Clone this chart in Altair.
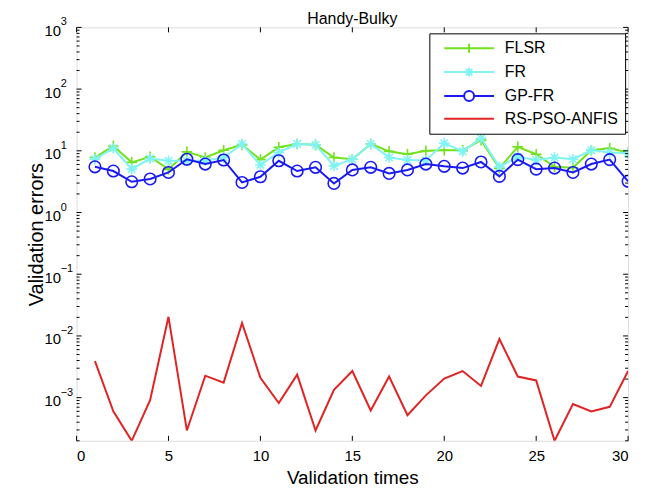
import altair as alt
import pandas as pd

# ---------------- data ----------------
runs = list(range(1, 31))
flsr = [7.8, 12.0, 6.5, 8.0, 5.0, 9.6, 7.8, 10.2, 12.5, 7.2,
        11.4, 12.9, 12.5, 7.8, 7.3, 12.9, 9.8, 8.8, 10.0, 10.2,
        10.2, 14.9, 5.2, 11.6, 8.8, 5.5, 5.3, 10.2, 11.0, 9.4]
fr = [7.3, 11.0, 5.05, 7.5, 6.9, 6.9, 6.9, 7.8, 12.9, 5.9,
      9.4, 12.9, 12.5, 5.7, 7.3, 12.9, 7.8, 7.1, 7.0, 13.3,
      9.8, 16.0, 5.5, 8.0, 7.1, 7.8, 7.3, 10.2, 9.4, 9.1]
gpfr = [5.5, 4.7, 3.15, 3.5, 4.46, 7.3, 6.1, 7.1, 3.07, 3.8,
        6.9, 4.7, 5.4, 2.96, 4.9, 5.4, 4.3, 4.9, 6.1, 5.6,
        5.25, 6.6, 3.85, 7.2, 5.05, 5.25, 4.46, 6.1, 7.2, 3.2]
rspso = [3.9e-3, 6.0e-4, 2.0e-4, 9.1e-4, 2.04e-2, 2.94e-4, 2.27e-3, 1.75e-3, 1.62e-2, 2.09e-3,
         8.2e-4, 2.36e-3, 2.94e-4, 1.34e-3, 2.7e-3, 6.2e-4, 2.2e-3, 5.2e-4, 1.09e-3, 2.04e-3,
         2.7e-3, 1.55e-3, 8.9e-3, 2.2e-3, 1.9e-3, 2.0e-4, 7.9e-4, 6.0e-4, 7.1e-4, 2.7e-3]

series_names = ["FLSR", "FR", "GP-FR", "RS-PSO-ANFIS"]
series_colors = ["#72e21c", "#80f4f4", "#1a1af2", "#e02424"]

x_ticks = [0, 5, 10, 15, 20, 25, 30]
y_major = [1e-3, 1e-2, 1e-1, 1e0, 1e1, 1e2, 1e3]
y_exponents = ["\u22123", "\u22122", "\u22121", "0", "1", "2", "3"]
y_minor = [m * 10.0 ** k for k in range(-4, 3) for m in range(2, 10)
           if 2e-4 <= m * 10.0 ** k <= 1e3]

# ---------------- styles ----------------
W, H = 555, 416
FONT = "Liberation Sans"

PLUS = "M-1,0H1M0,-1V1"
STAR = "M-1,0H1M0,-1V1M-0.7,-0.7L0.7,0.7M-0.7,0.7L0.7,-0.7"
marker_shapes = {"FLSR": PLUS, "FR": STAR, "GP-FR": "circle"}
marker_sizes = {"FLSR": 115, "FR": 115, "GP-FR": 135}

legend_paths = [
    "M0,0H10M5,-0.9V0.9",
    "M0,0H10M5,-0.9V0.9M4.35,-0.65L5.65,0.65M4.35,0.65L5.65,-0.65",
    "M0,0H4M6,0H10M4,0A1,1 0 1,1 6,0A1,1 0 1,1 4,0",
    "M0,0H10",
]

df = pd.DataFrame({
    "run": runs * 4,
    "error": flsr + fr + gpfr + rspso,
    "series": [n for n in series_names for _ in runs],
})
df_major = pd.DataFrame({"v": y_major, "e": y_exponents})
df_minor = pd.DataFrame({"v": y_minor})
df_xt = pd.DataFrame({"t": x_ticks})

xs = alt.Scale(domain=[0, 30], nice=False, zero=False)
ys = alt.Scale(type="log", domain=[2e-4, 1e3], nice=False)
color_scale = alt.Scale(domain=series_names, range=series_colors)

x_axis = alt.Axis(values=x_ticks, ticks=False, domain=False, grid=False,
                  labelFontSize=15, labelPadding=8, format="d",
                  title="Validation times", titleFontSize=19, titlePadding=5,
                  titleFontWeight="normal", titleFont=FONT, labelFont=FONT)
y_axis = alt.Axis(values=y_major, ticks=False, domain=False, grid=False,
                  labelExpr="'10'", labelFontSize=15, labelPadding=16, labelOffset=3,
                  title="Validation errors", titleFontSize=20, titlePadding=-2,
                  titleFontWeight="normal", titleFont=FONT, labelFont=FONT)

X = alt.X("run:Q", scale=xs, axis=x_axis)
Y = alt.Y("error:Q", scale=ys, axis=y_axis)

base = alt.Chart(df)

legend = alt.Legend(title=None, orient="none", legendX=355, legendY=6,
                    padding=7, strokeColor="black", fillColor="white",
                    labelFont=FONT, labelFontSize=16, labelColor="black",
                    labelOffset=53, symbolSize=100, symbolStrokeWidth=2,
                    symbolOpacity=1, rowPadding=6, cornerRadius=0)
legend_layer = base.mark_point(filled=False, opacity=0, strokeWidth=2).encode(
    x=X, y=Y,
    color=alt.Color("series:N", scale=color_scale, legend=legend),
    shape=alt.Shape("series:N", scale=alt.Scale(domain=series_names, range=legend_paths),
                    legend=legend),
)

layers = [legend_layer]
for name in series_names:
    sub = base.transform_filter(alt.datum.series == name)
    layers.append(sub.mark_line(strokeWidth=2, clip=True).encode(
        x=X, y=Y, color=alt.Color("series:N", scale=color_scale)))
    if name in marker_shapes:
        layers.append(sub.mark_point(shape=marker_shapes[name], size=marker_sizes[name],
                                     filled=False, strokeWidth=1.6, opacity=1, clip=True).encode(
            x=X, y=Y, color=alt.Color("series:N", scale=color_scale)))

# inward ticks like MATLAB
YV = alt.Y("v:Q", scale=ys, axis=y_axis)
XT = alt.X("t:Q", scale=xs, axis=x_axis)
tick_layers = [
    alt.Chart(df_major).mark_rule(color="black", strokeWidth=1).encode(y=YV, x=alt.value(0), x2=alt.value(5)),
    alt.Chart(df_major).mark_rule(color="black", strokeWidth=1).encode(y=YV, x=alt.value(W - 5), x2=alt.value(W)),
    alt.Chart(df_minor).mark_rule(color="black", strokeWidth=1).encode(y=YV, x=alt.value(0), x2=alt.value(3)),
    alt.Chart(df_minor).mark_rule(color="black", strokeWidth=1).encode(y=YV, x=alt.value(W - 3), x2=alt.value(W)),
    alt.Chart(df_xt).mark_rule(color="black", strokeWidth=1).encode(x=XT, y=alt.value(H - 5), y2=alt.value(H)),
    alt.Chart(df_xt).mark_rule(color="black", strokeWidth=1).encode(x=XT, y=alt.value(0), y2=alt.value(5)),
]

exp_layer = alt.Chart(df_major).mark_text(align="left", baseline="middle", fontSize=11,
                                          font=FONT, color="black", dy=-5).encode(
    y=YV, x=alt.value(-16), text="e:N")

chart = alt.layer(*layers, *tick_layers, exp_layer).properties(
    width=W, height=H,
    title=alt.TitleParams("Handy-Bulky", fontSize=16, font=FONT, fontWeight="normal",
                          color="black", anchor="middle", frame="group", offset=5, dy=16),
    padding={"left": 69, "top": 18, "right": 15, "bottom": 47},
    autosize=alt.AutoSizeParams(type="none"),
).configure_view(stroke="black", strokeWidth=1).configure_axis(
    labelFont=FONT, titleFont=FONT, labelColor="black", titleColor="black",
    titleFontWeight="normal",
).configure(background="white")

chart.save("out.html", embed_options={"renderer": "svg", "actions": False})
